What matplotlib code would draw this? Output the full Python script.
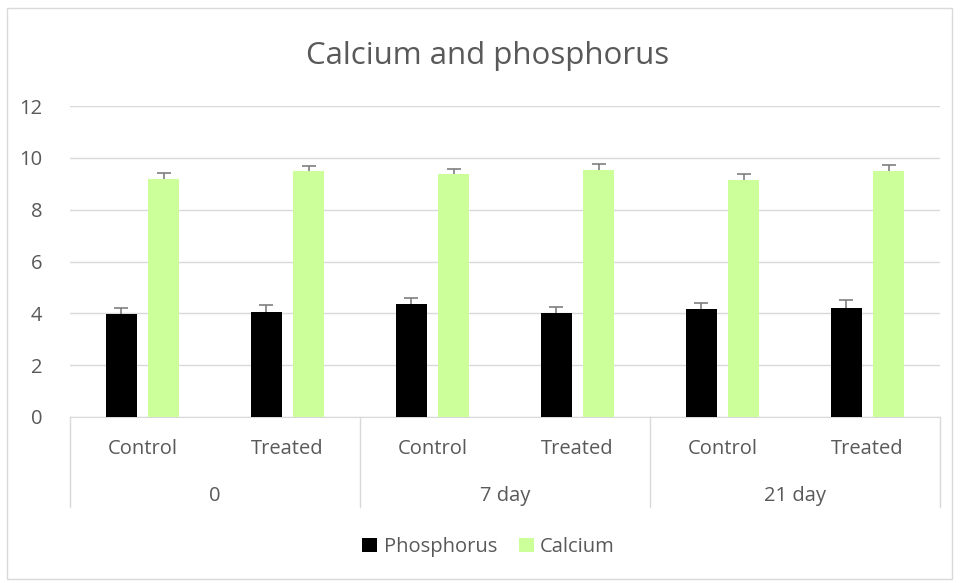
import matplotlib
matplotlib.use("Agg")
import matplotlib.pyplot as plt
import matplotlib.transforms as mtransforms
from matplotlib.patches import Rectangle
import numpy as np

plt.rcParams['font.family'] = ['Open Sans', 'DejaVu Sans']

# ---- data ----
groups = ["0", "7 day", "21 day"]
subcats = ["Control", "Treated", "Control", "Treated", "Control", "Treated"]
phosphorus = [3.97, 4.06, 4.37, 4.02, 4.17, 4.22]
phosphorus_err = [0.22, 0.25, 0.23, 0.24, 0.23, 0.28]
calcium = [9.18, 9.48, 9.39, 9.54, 9.16, 9.49]
calcium_err = [0.23, 0.19, 0.18, 0.24, 0.22, 0.23]
yticks = [0, 2, 4, 6, 8, 10, 12]

TXT = '#595959'
FS = 14.5

# ---- figure ----
fig = plt.figure(figsize=(9.6, 5.83), dpi=100)
fig.patches.append(Rectangle((7/960, 1-579/583), 945/960, 571/583,
                             transform=fig.transFigure, fill=False,
                             edgecolor='#d9d9d9', linewidth=1.0))
ax = fig.add_axes([70/960, 1-417/583, 870/960, 311/583])

x = np.arange(len(subcats))
w = 0.22
off = 0.145
ekw = dict(ecolor='#7f7f7f', elinewidth=1.2, capsize=5, capthick=1.2)
b1 = ax.bar(x - off, phosphorus, w, color='#000000', label='Phosphorus', zorder=3,
            yerr=[np.zeros(len(phosphorus)), phosphorus_err], error_kw=ekw)
b2 = ax.bar(x + off, calcium, w, color='#ccff99', label='Calcium', zorder=3,
            yerr=[np.zeros(len(calcium)), calcium_err], error_kw=ekw)
# hide lower caps (plus-only error bars)
for b in (b1, b2):
    caps = b.errorbar.lines[1]
    if len(caps) >= 2:
        caps[0].set_visible(False)

ax.set_xlim(-0.5, len(subcats) - 0.5)
ax.set_ylim(0, 12)
ax.set_yticks(yticks)
ax.yaxis.grid(True, color='#d9d9d9', linewidth=1.0, zorder=0)
ax.set_axisbelow(True)
for s in ['top', 'right', 'left']:
    ax.spines[s].set_visible(False)
ax.spines['bottom'].set_color('#d9d9d9')
ax.tick_params(axis='y', length=0, labelsize=FS, labelcolor=TXT, pad=20)
ax.tick_params(axis='x', length=0)
ax.set_xticks([])

# multi-level category axis
trans = mtransforms.blended_transform_factory(ax.transData, ax.transAxes)
for i, lab in enumerate(subcats):
    ax.text(i, -0.104, lab, transform=trans, ha='center', va='center',
            fontsize=FS, color=TXT)
for g, lab in enumerate(groups):
    ax.text(2 * g + 0.5, -0.255, lab, transform=trans, ha='center', va='center',
            fontsize=FS, color=TXT)
for bnd in [-0.5, 1.5, 3.5, 5.5]:
    ax.plot([bnd, bnd], [0, -0.29], transform=trans, color='#d9d9d9',
            linewidth=1.0, clip_on=False)

fig.text(0.508, 1 - 56/583, "Calcium and phosphorus", ha='center', va='center',
         fontsize=22.5, color=TXT)

fig.legend(loc='center', bbox_to_anchor=(0.509, 1 - 547/583), ncol=2,
           frameon=False, fontsize=FS, handlelength=0.75, handleheight=0.75,
           handletextpad=0.3, columnspacing=1.1, labelcolor=TXT)

fig.savefig('out.png', dpi=100)
